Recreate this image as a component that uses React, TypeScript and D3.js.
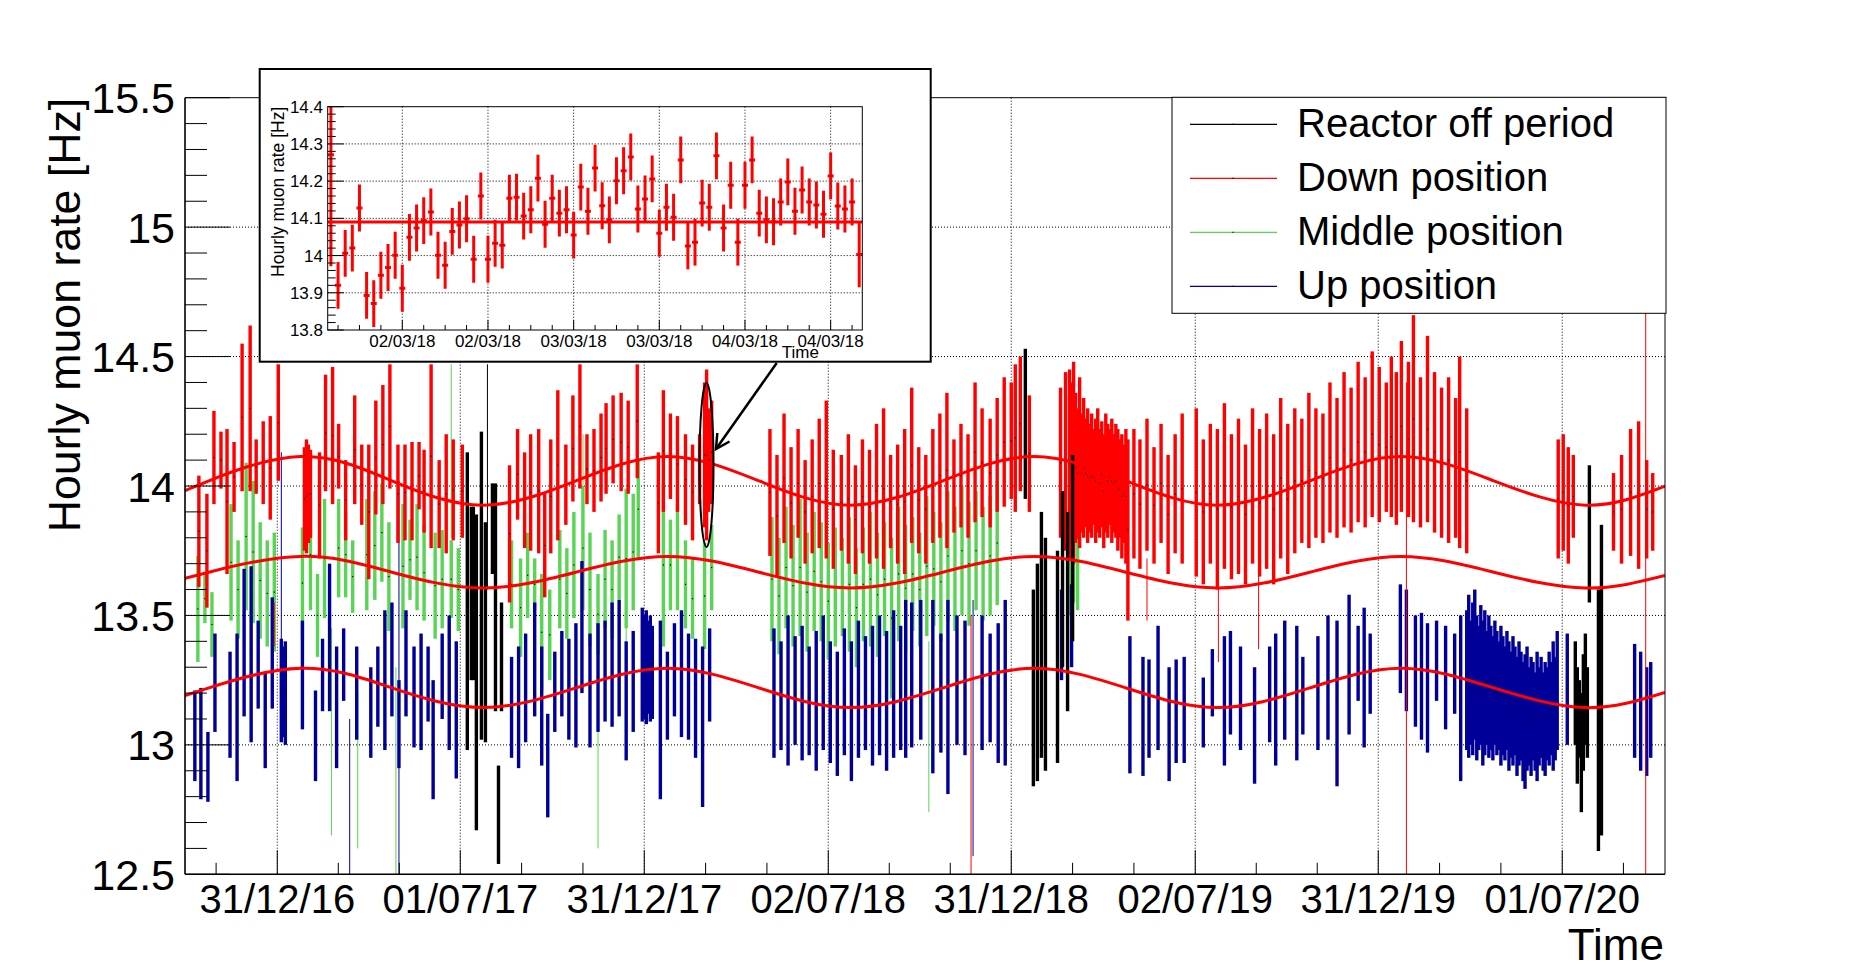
import React from "react";
import * as d3 from "d3";

type Spike = [number, number, number]; // [days since 31/12/16, low, high]

const FONT = "'Liberation Sans', Arial, Helvetica, sans-serif";
const DAY = 86400000;
const BASE_DATE = "2016-12-31T00:00:00Z";

// ---------- main axes ----------
const X_DOMAIN = ["2016-09-30T05:00:00Z", "2020-10-11T05:00:00Z"];
const X_TICKS = ["2016-12-31", "2017-07-01", "2017-12-31", "2018-07-02", "2018-12-31", "2019-07-02", "2019-12-31", "2020-07-01"];
const X_TICK_LABELS = ["31/12/16", "01/07/17", "31/12/17", "02/07/18", "31/12/18", "02/07/19", "31/12/19", "01/07/20"];
const Y_DOMAIN = [12.5, 15.5];
const Y_TICKS = [12.5, 13, 13.5, 14, 14.5, 15, 15.5];
const Y_TICK_LABELS = ["12.5", "13", "13.5", "14", "14.5", "15", "15.5"];

// ---------- series (envelopes of the hourly error bars per measurement period) ----------
const DOWN_SPIKES: Spike[] = [
  [-78, 13.61, 14.04], [-70, 13.53, 13.97], [-63, 13.93, 14.29], [-56, 13.99, 14.21], [-50, 13.66, 14.22], [-43, 13.9, 14.17],
  [-35, 13.98, 14.55], [-27, 13.98, 14.62], [-21, 13.97, 14.18], [-14, 13.93, 14.25], [-7, 13.87, 14.27], [1, 14.02, 14.47],
  [27, 13.75, 14.15], [29, 13.74, 14.18], [31, 13.78, 14.16], [33, 13.8, 14.14], [42, 13.72, 14.13], [48, 13.98, 14.43],
  [55, 13.93, 14.46], [61, 13.99, 14.24], [68, 13.79, 14.1], [77, 13.93, 14.35], [84, 13.85, 14.16], [91, 13.64, 14.16],
  [98, 13.89, 14.33], [105, 13.93, 14.39], [112, 13.99, 14.47], [120, 13.78, 14.16], [127, 13.79, 14.16], [134, 13.79, 14.17],
  [141, 13.91, 14.17], [146, 13.82, 14.14], [153, 13.76, 14.47], [161, 13.76, 14.1], [168, 13.74, 14.2], [175, 13.79, 14.18],
  [184, 13.8, 14.16], [231, 13.55, 14.08], [239, 13.87, 14.22], [246, 13.76, 14.13], [252, 13.75, 14.2], [260, 13.74, 14.22],
  [266, 13.57, 13.97], [272, 13.74, 14.18], [279, 13.79, 14.37], [287, 13.85, 14.16], [294, 13.94, 14.35], [301, 13.99, 14.47],
  [308, 13.93, 14.2], [315, 13.9, 14.22], [322, 13.94, 14.28], [327, 13.97, 14.32], [334, 14.01, 14.35], [342, 13.98, 14.36],
  [349, 13.97, 14.33], [358, 14.03, 14.47], [379, 13.74, 14.13], [384, 13.9, 14.37], [391, 13.95, 14.28], [398, 13.9, 14.27],
  [406, 13.85, 14.2], [413, 13.79, 14.16], [420, 13.93, 14.2], [425, 13.84, 14.4], [427, 13.79, 14.45], [429, 13.9, 14.3],
  [432, 13.93, 14.33],
  [490, 13.73, 14.22], [497, 13.65, 14.12], [504, 13.78, 14.28], [511, 13.72, 14.15], [518, 13.8, 14.22], [525, 13.7, 14.1],
  [532, 13.74, 14.18], [539, 13.76, 14.26], [546, 13.72, 14.33], [553, 13.68, 14.14], [561, 13.75, 14.12], [568, 13.7, 14.2],
  [575, 13.66, 14.08], [582, 13.74, 14.18], [589, 13.7, 14.14], [596, 13.72, 14.24], [603, 13.68, 14.3], [610, 13.76, 14.12],
  [617, 13.7, 14.16], [624, 13.66, 14.22], [631, 13.78, 14.38], [638, 13.74, 14.15], [645, 13.7, 14.12], [652, 13.78, 14.22],
  [659, 13.8, 14.28], [666, 13.76, 14.36], [673, 13.82, 14.18], [680, 13.84, 14.24], [687, 13.8, 14.2], [694, 13.86, 14.4],
  [701, 13.88, 14.3], [709, 13.84, 14.26], [716, 13.9, 14.34], [723, 13.92, 14.42], [730, 13.95, 14.4], [734, 13.9, 14.47],
  [739, 13.98, 14.5], [748, 13.9, 14.35], [779, 13.8, 14.38], [784, 13.75, 14.44],
  [788, 13.72, 14.45], [790, 13.75, 14.4], [792, 13.7, 14.48], [794, 13.78, 14.36], [796, 13.8, 14.3], [798, 13.76, 14.42],
  [800, 13.82, 14.28], [802, 13.8, 14.34], [804, 13.84, 14.26], [806, 13.78, 14.3], [808, 13.82, 14.24], [810, 13.8, 14.28],
  [812, 13.85, 14.22], [814, 13.78, 14.26], [816, 13.82, 14.3], [818, 13.8, 14.22], [820, 13.84, 14.25], [822, 13.76, 14.2],
  [824, 13.82, 14.28], [826, 13.8, 14.24], [828, 13.85, 14.22], [830, 13.78, 14.26], [832, 13.82, 14.2], [834, 13.8, 14.24],
  [836, 13.75, 14.22], [838, 13.8, 14.18], [840, 13.72, 14.2], [842, 13.78, 14.16], [844, 13.7, 14.22], [846, 13.48, 14.18],
  [852, 13.72, 14.22], [858, 13.68, 14.18], [865, 13.75, 14.26], [872, 13.7, 14.15], [879, 13.78, 14.24], [886, 13.66, 14.12],
  [893, 13.74, 14.2], [900, 13.7, 14.28], [914, 13.65, 14.3], [921, 13.62, 14.18], [928, 13.7, 14.24], [935, 13.6, 14.22],
  [942, 13.68, 14.32], [949, 13.64, 14.2], [956, 13.66, 14.26], [963, 13.62, 14.16], [970, 13.7, 14.3], [977, 13.65, 14.22],
  [984, 13.68, 14.28], [991, 13.62, 14.2], [998, 13.72, 14.34], [1005, 13.66, 14.24], [1012, 13.74, 14.3], [1019, 13.78, 14.26],
  [1026, 13.76, 14.36], [1033, 13.8, 14.3], [1040, 13.78, 14.28], [1047, 13.82, 14.4], [1054, 13.8, 14.34], [1061, 13.84, 14.44],
  [1068, 13.82, 14.38], [1075, 13.86, 14.48], [1082, 13.84, 14.42], [1089, 13.88, 14.52], [1096, 13.86, 14.46], [1103, 13.9, 14.4],
  [1108, 13.88, 14.5], [1113, 13.85, 14.44], [1118, 13.9, 14.56], [1125, 13.88, 14.48], [1130, 13.86, 14.66], [1137, 13.84, 14.42],
  [1144, 13.86, 14.58], [1151, 13.82, 14.44], [1158, 13.8, 14.38], [1165, 13.78, 14.42], [1172, 13.8, 14.34], [1176, 13.76, 14.5],
  [1183, 13.74, 14.3],
  [1274, 13.72, 14.18], [1279, 13.75, 14.2], [1284, 13.7, 14.15], [1289, 13.8, 14.12],
  [1329, 13.75, 14.05], [1337, 13.7, 14.12], [1346, 13.73, 14.22], [1354, 13.68, 14.25], [1362, 13.72, 14.1], [1368, 13.75, 14.05],
];
const DOWN_OUTLIERS: Spike[] = [
  [-3, 13.38, 13.55], [690, 12.45, 13.5], [865, 13.48, 13.72], [936, 13.32, 13.7], [976, 13.37, 13.7], [1123, 12.45, 14.4], [1361, 12.45, 14.67],
];

const MIDDLE_SPIKES: Spike[] = [
  [-79, 13.32, 13.73], [-72, 13.47, 13.66], [-65, 13.34, 13.59], [-46, 13.48, 13.93], [-39, 13.41, 13.79], [-31, 13.52, 14.09],
  [-24, 13.47, 14.02], [-17, 13.41, 13.86], [-10, 13.38, 13.79], [-3, 13.36, 13.82], [25, 13.41, 13.84], [33, 13.52, 13.95],
  [40, 13.34, 13.66], [47, 13.49, 13.95], [61, 13.57, 13.95], [68, 13.57, 13.9], [75, 13.51, 13.79], [89, 13.52, 13.95],
  [97, 13.56, 13.98], [104, 13.63, 14.01], [111, 13.44, 13.86], [125, 13.45, 13.93], [132, 13.56, 13.87], [139, 13.52, 13.93],
  [146, 13.48, 13.85], [157, 13.41, 13.82], [164, 13.45, 13.83], [173, 13.49, 13.79], [180, 13.44, 13.76], [233, 13.45, 13.79],
  [242, 13.34, 13.72], [249, 13.49, 13.82], [256, 13.52, 13.72], [263, 13.21, 13.66], [271, 13.25, 13.6], [281, 13.45, 13.83],
  [288, 13.41, 13.76], [295, 13.49, 13.9], [304, 13.52, 14.0], [311, 13.38, 13.82], [319, 13.35, 13.66], [326, 13.45, 13.83],
  [333, 13.41, 13.79], [340, 13.56, 13.89], [347, 13.45, 13.99], [354, 13.52, 13.97], [359, 13.72, 14.1], [384, 13.38, 14.01],
  [391, 13.52, 13.87], [398, 13.52, 13.93], [406, 13.45, 13.79], [413, 13.41, 13.72], [425, 13.37, 13.78], [432, 13.52, 13.85],
  [492, 13.4, 13.88], [499, 13.35, 13.8], [506, 13.45, 13.92], [513, 13.38, 13.85], [520, 13.42, 13.95], [527, 13.36, 13.82],
  [534, 13.44, 13.9], [541, 13.4, 13.86], [548, 13.33, 13.78], [555, 13.38, 13.84], [562, 13.42, 13.8], [569, 13.36, 13.88],
  [576, 13.3, 13.76], [583, 13.4, 13.84], [590, 13.38, 13.9], [597, 13.34, 13.82], [604, 13.42, 13.86], [611, 13.18, 13.8],
  [618, 13.4, 13.92], [625, 13.36, 13.85], [632, 13.44, 13.88], [639, 13.38, 13.82], [646, 13.42, 13.96], [653, 13.46, 13.9],
  [660, 13.4, 13.86], [667, 13.48, 13.98], [674, 13.44, 13.92], [681, 13.5, 14.0], [688, 13.46, 13.94], [695, 13.52, 13.98],
  [702, 13.48, 13.92], [709, 13.5, 13.96], [716, 13.54, 14.02], [788, 13.5, 14.1], [792, 13.55, 14.05], [796, 13.52, 14.08],
];
const MIDDLE_OUTLIERS: Spike[] = [
  [54, 12.65, 13.45], [80, 12.6, 13.2], [118, 12.45, 13.3], [173, 13.8, 14.47], [304, 14.0, 14.2], [319, 12.6, 13.35],
  [347, 12.97, 13.45], [648, 12.74, 13.4],
];

const UP_SPIKES: Spike[] = [
  [-82, 12.86, 13.21], [-76, 12.79, 13.22], [-69, 12.78, 13.05], [-62, 13.05, 13.43], [-47, 12.95, 13.36], [-40, 12.86, 13.43],
  [-33, 13.11, 13.68], [-26, 13.01, 13.69], [-19, 13.14, 13.48], [-12, 12.91, 13.28], [-5, 13.14, 13.57], [4, 13.01, 13.41],
  [6, 13.03, 13.38], [8, 13.0, 13.4], [25, 13.06, 13.48], [38, 12.86, 13.21], [45, 13.13, 13.41], [52, 13.13, 13.7],
  [59, 12.91, 13.38], [66, 13.17, 13.45], [79, 13.02, 13.38], [93, 12.95, 13.3], [100, 13.07, 13.38], [107, 12.98, 13.52],
  [114, 13.11, 13.55], [121, 12.91, 13.25], [128, 13.11, 13.52], [136, 12.99, 13.38], [143, 12.98, 13.43], [150, 13.09, 13.38],
  [155, 12.79, 13.25], [164, 13.1, 13.43], [171, 12.98, 13.5], [178, 12.87, 13.4], [233, 12.95, 13.34], [240, 12.91, 13.38],
  [247, 13.01, 13.43], [256, 13.11, 13.55], [263, 12.92, 13.38], [269, 12.72, 13.12], [276, 13.05, 13.36], [283, 13.11, 13.44],
  [290, 13.02, 13.41], [297, 12.99, 13.47], [303, 13.2, 13.71], [311, 12.99, 13.43], [319, 13.05, 13.47], [326, 13.09, 13.48],
  [333, 13.07, 13.55], [340, 13.11, 13.56], [347, 12.94, 13.4], [354, 13.05, 13.44], [363, 13.09, 13.53], [365, 13.1, 13.5],
  [367, 13.08, 13.52], [369, 13.12, 13.48], [371, 13.09, 13.5], [373, 13.1, 13.46], [381, 12.79, 13.48], [388, 13.02, 13.36],
  [395, 13.11, 13.47], [402, 13.03, 13.52], [409, 13.02, 13.43], [416, 12.95, 13.41], [423, 12.76, 13.38], [430, 13.09, 13.45],
  [494, 12.95, 13.45], [501, 12.98, 13.4], [508, 12.92, 13.5], [515, 13.0, 13.42], [522, 12.94, 13.46], [529, 12.96, 13.38],
  [536, 12.9, 13.44], [543, 12.98, 13.5], [550, 12.93, 13.4], [557, 12.88, 13.36], [564, 12.96, 13.45], [571, 12.86, 13.4],
  [578, 12.95, 13.48], [585, 12.98, 13.42], [592, 12.92, 13.46], [599, 12.96, 13.5], [606, 12.9, 13.44], [613, 12.95, 13.52],
  [620, 12.98, 13.46], [625, 12.95, 13.56], [631, 12.99, 13.55], [640, 13.02, 13.56], [652, 12.89, 13.56], [660, 12.97, 13.43],
  [667, 12.81, 13.56], [676, 13.0, 13.5], [684, 12.96, 13.48], [701, 12.98, 13.5], [709, 13.01, 13.43], [717, 12.93, 13.47],
  [724, 12.92, 13.56], [780, 13.25, 13.6], [790, 13.3, 13.62],
  [848, 12.89, 13.42], [861, 12.88, 13.34], [867, 12.95, 13.33], [876, 12.98, 13.46], [887, 12.86, 13.3], [894, 12.93, 13.33],
  [902, 12.93, 13.34], [921, 12.99, 13.26], [930, 13.11, 13.37], [942, 12.92, 13.42], [948, 13.04, 13.44], [958, 12.98, 13.38],
  [972, 12.85, 13.3], [987, 13.01, 13.38], [993, 12.92, 13.43], [1002, 13.02, 13.48], [1014, 12.94, 13.46], [1020, 13.04, 13.34],
  [1035, 12.98, 13.42], [1045, 13.02, 13.5], [1054, 12.84, 13.48], [1066, 13.04, 13.58], [1075, 13.17, 13.46], [1081, 12.99, 13.53],
  [1087, 13.12, 13.43], [1117, 13.2, 13.62], [1123, 13.13, 13.6], [1132, 13.07, 13.5], [1138, 13.02, 13.51], [1144, 12.97, 13.47],
  [1153, 13.17, 13.48], [1162, 13.06, 13.46], [1171, 13.12, 13.43], [1177, 12.86, 13.5],
  [1183, 12.98, 13.52], [1185, 12.95, 13.58], [1187, 13.0, 13.48], [1189, 12.96, 13.55], [1191, 13.02, 13.6], [1193, 12.94, 13.5],
  [1195, 12.98, 13.46], [1197, 13.0, 13.54], [1199, 12.92, 13.48], [1201, 12.96, 13.52], [1203, 13.0, 13.44], [1205, 12.95, 13.5],
  [1207, 12.98, 13.46], [1209, 12.94, 13.42], [1211, 13.0, 13.48], [1213, 12.96, 13.44], [1215, 12.98, 13.4], [1217, 12.92, 13.46],
  [1219, 12.96, 13.42], [1221, 12.94, 13.38], [1223, 12.98, 13.44], [1225, 12.9, 13.4], [1227, 12.95, 13.36], [1229, 12.92, 13.42],
  [1231, 12.96, 13.38], [1233, 12.88, 13.34], [1235, 12.92, 13.4], [1237, 12.94, 13.36], [1239, 12.86, 13.32], [1241, 12.83, 13.35],
  [1243, 12.9, 13.38], [1245, 12.92, 13.3], [1247, 12.88, 13.34], [1249, 12.94, 13.32], [1251, 12.9, 13.28], [1253, 12.86, 13.36],
  [1255, 12.92, 13.3], [1257, 12.95, 13.34], [1259, 12.9, 13.28], [1261, 12.88, 13.32], [1263, 12.94, 13.3], [1265, 12.92, 13.36],
  [1267, 12.96, 13.32], [1269, 12.9, 13.4], [1271, 12.94, 13.34], [1273, 12.98, 13.44],
  [1283, 13.0, 13.43], [1350, 12.95, 13.39], [1356, 12.9, 13.36], [1362, 12.88, 13.3], [1366, 12.95, 13.32],
];
const UP_OUTLIERS: Spike[] = [
  [4, 13.4, 14.13], [72, 12.45, 13.1], [121, 12.45, 14.02], [692, 12.57, 13.56],
];

const OFF_SPIKES: Spike[] = [
  [189, 12.98, 14.13], [193, 13.25, 13.92], [195, 13.25, 13.92], [198, 12.67, 13.89], [203, 13.02, 14.21], [207, 13.01, 13.86],
  [214, 13.66, 14.01], [217, 13.13, 14.01], [220, 12.54, 12.92], [223, 13.13, 13.55],
  [744, 13.95, 14.53], [752, 12.84, 13.6], [756, 12.86, 13.7], [760, 12.95, 13.9], [764, 12.9, 13.8], [776, 12.93, 13.75],
  [781, 13.3, 13.98], [786, 13.13, 13.9], [791, 13.4, 14.12],
  [1291, 13.0, 13.4], [1293, 12.85, 13.3], [1295, 12.95, 13.25], [1297, 12.74, 13.2], [1299, 12.9, 13.35], [1301, 13.0, 13.43],
  [1303, 12.95, 13.3], [1305, 13.55, 14.08], [1314, 12.59, 13.6], [1317, 12.65, 13.85],
];
const OFF_OUTLIERS: Spike[] = [[209, 13.6, 14.47]];

// ---------- yearly fits (values read at extrema and crossings) ----------
const FIT_DATES = [
  "2016-09-30T05:00:00Z", "2016-10-24", "2017-01-23", "2017-04-24", "2017-07-24", "2017-10-24", "2018-01-23", "2018-04-24",
  "2018-07-24", "2018-10-24", "2019-01-23", "2019-04-24", "2019-07-24", "2019-10-24", "2020-01-23", "2020-04-24", "2020-07-24",
  "2020-10-11T05:00:00Z",
];
const FIT_DOWN = [13.982, 14.02, 14.114, 14.02, 13.926, 14.02, 14.114, 14.02, 13.926, 14.02, 14.114, 14.02, 13.926, 14.02, 14.114, 14.02, 13.926, 13.999];
const FIT_MIDDLE = [13.643, 13.667, 13.728, 13.667, 13.606, 13.667, 13.728, 13.667, 13.606, 13.667, 13.728, 13.667, 13.606, 13.667, 13.728, 13.667, 13.606, 13.654];
const FIT_UP = [13.19, 13.22, 13.296, 13.22, 13.144, 13.22, 13.296, 13.22, 13.144, 13.22, 13.296, 13.22, 13.144, 13.22, 13.296, 13.22, 13.144, 13.203];

// ---------- legend ----------
const LEGEND_LABELS = ["Reactor off period", "Down position", "Middle position", "Up position"];
const COLORS = { off: "#000000", down: "#ff0000", middle: "#59d454", up: "#000099" };

// ---------- inset (hourly rates, 01/03/18 - 04/03/18) ----------
const INSET_DOMAIN = ["2018-03-01T13:33:00Z", "2018-03-04T16:26:00Z"];
const INSET_FIRST = "2018-03-01T14:00:00Z";
const INSET_Y_DOMAIN = [13.8, 14.4];
const INSET_Y_TICKS = [13.8, 13.9, 14.0, 14.1, 14.2, 14.3, 14.4];
const INSET_Y_LABELS = ["13.8", "13.9", "14", "14.1", "14.2", "14.3", "14.4"];
const INSET_VALUES = [
  14.271, 13.92, 14.006, 14.02, 14.128, 13.893, 13.871, 13.947, 13.968, 14.001, 13.912, 14.049, 14.074, 14.094, 14.117,
  14.001, 13.974, 14.065, 14.082, 14.099, 13.99, 14.16, 13.99, 14.033, 14.028, 14.154, 14.157, 14.106, 14.123, 14.208,
  14.084, 14.154, 14.114, 14.123, 14.055, 14.184, 14.119, 14.235, 14.134, 14.096, 14.201, 14.228, 14.265, 14.125, 14.152,
  14.206, 14.06, 14.13, 14.103, 14.257, 14.026, 14.036, 14.141, 14.13, 14.268, 14.074, 14.189, 14.036, 14.189, 14.257,
  14.114, 14.096, 14.091, 14.144, 14.198, 14.119, 14.176, 14.144, 14.136, 14.111, 14.214, 14.133, 14.125, 14.144, 14.003,
];
const INSET_ERRORS = INSET_VALUES.map((_, i) => (i === 0 ? 0.3 : i === INSET_VALUES.length - 1 ? 0.088 : 0.063));
const INSET_FIT = 14.09;

// ---------- layout ----------
const W = 1851, H = 973;
const FX0 = 185, FX1 = 1665, FY0 = 97.7, FY1 = 874.3;
const IB = { x0: 259.7, y0: 69, x1: 930.7, y1: 361.7 };
const IF = { x0: 327.7, y0: 106.7, x1: 862.3, y1: 330 };
const SPIKE_W = 3.4;

export default function App() {
  const base = new Date(BASE_DATE).getTime();
  const x = d3.scaleUtc().domain(X_DOMAIN.map((d) => new Date(d))).range([FX0, FX1]);
  const y = d3.scaleLinear().domain(Y_DOMAIN).range([FY1, FY0]);
  const dx = (d: number) => x(new Date(base + d * DAY));

  const majors = X_TICKS.map((d) => new Date(d + "T00:00:00Z").getTime());
  const step = (majors[majors.length - 1] - majors[0]) / (majors.length - 1);
  const ext = [majors[0] - step, ...majors, majors[majors.length - 1] + step];
  const minors: number[] = [];
  for (let i = 0; i < ext.length - 1; i++) {
    const a = ext[i], b = ext[i + 1];
    minors.push(a + (b - a) / 3, a + (2 * (b - a)) / 3);
  }
  const minorX = minors.map((t) => x(new Date(t))).filter((p) => p > FX0 + 0.5 && p < FX1 - 0.5);
  const yMinor = d3.range(0, 31).map((i) => 12.5 + i * 0.1);

  const fitLine = d3
    .line<[Date, number]>()
    .x((d) => x(d[0]))
    .y((d) => y(d[1]))
    .curve(d3.curveNatural);
  const fitDates = FIT_DATES.map((d) => new Date(d.length > 10 ? d : d + "T00:00:00Z"));
  const fits = [FIT_DOWN, FIT_MIDDLE, FIT_UP].map((vals) => fitLine(fitDates.map((d, i) => [d, vals[i]] as [Date, number])) || "");

  const spikes = (data: Spike[], color: string, w: number, key: string, dots: boolean) =>
    data.map(([d, lo, hi], i) => {
      const cx = dx(d);
      const y1 = y(hi), y2 = y(lo);
      return (
        <g key={key + i}>
          <rect x={cx - w / 2} y={y1} width={w} height={Math.max(1, y2 - y1)} fill={color} />
          {dots && <rect x={cx - 0.6} y={(y1 + y2) / 2 - 0.6} width={1.2} height={1.2} fill="#000" />}
        </g>
      );
    });

  // inset scales
  const ix = d3.scaleUtc().domain(INSET_DOMAIN.map((d) => new Date(d))).range([IF.x0, IF.x1]);
  const iy = d3.scaleLinear().domain(INSET_Y_DOMAIN).range([IF.y1, IF.y0]);
  const iMajors = d3.utcHour.every(12)!.range(ix.domain()[0], ix.domain()[1]);
  const iMinors = d3.utcHour.every(3)!.range(ix.domain()[0], ix.domain()[1]);
  const iFmt = d3.utcFormat("%d/%m/%y");
  const iyMinor = d3.range(0, 31).map((i) => 13.8 + i * 0.02);
  const first = new Date(INSET_FIRST).getTime();

  const dotted = { stroke: "#000", strokeWidth: 1, strokeDasharray: "1 2" };

  return (
    <svg width={W} height={H} style={{ display: "block", position: "absolute", left: 0, top: 0, background: "#fff" }} fontFamily={FONT}>
      <style>{`body{margin:0}`}</style>
      <defs>
        <clipPath id="mainClip">
          <rect x={FX0} y={FY0} width={FX1 - FX0} height={FY1 - FY0} />
        </clipPath>
        <clipPath id="insetClip">
          <rect x={IF.x0} y={IF.y0} width={IF.x1 - IF.x0} height={IF.y1 - IF.y0} />
        </clipPath>
      </defs>
      <rect x={0} y={0} width={W} height={H} fill="#fff" />

      {/* grid */}
      {majors.map((t, i) => (
        <line key={"gx" + i} x1={x(new Date(t))} x2={x(new Date(t))} y1={FY0} y2={FY1} {...dotted} />
      ))}
      {Y_TICKS.slice(1, -1).map((v, i) => (
        <line key={"gy" + i} x1={FX0} x2={FX1} y1={y(v)} y2={y(v)} {...dotted} />
      ))}

      {/* data */}
      <g clipPath="url(#mainClip)">
        {spikes(MIDDLE_SPIKES, COLORS.middle, SPIKE_W, "m", true)}
        {spikes(MIDDLE_OUTLIERS, COLORS.middle, 1, "mo", false)}
        {spikes(UP_SPIKES, COLORS.up, SPIKE_W, "u", true)}
        {spikes(UP_OUTLIERS, COLORS.up, 1, "uo", false)}
        {spikes(DOWN_SPIKES, COLORS.down, SPIKE_W, "d", true)}
        {spikes(DOWN_OUTLIERS, COLORS.down, 1, "do", false)}
        {spikes(OFF_SPIKES, COLORS.off, SPIKE_W, "o", false)}
        {spikes(OFF_OUTLIERS, COLORS.off, 1, "oo", false)}
        {fits.map((p, i) => (
          <path key={"fit" + i} d={p} fill="none" stroke="#ff0000" strokeWidth={3} />
        ))}
      </g>

      {/* frame & axes */}
      <line x1={FX0} x2={FX1} y1={FY0} y2={FY0} stroke="#000" strokeWidth={1} />
      <line x1={FX1} x2={FX1} y1={FY0} y2={FY1} stroke="#000" strokeWidth={1} />
      <line x1={FX0} x2={FX0} y1={FY0} y2={FY1} stroke="#000" strokeWidth={1.6} />
      <line x1={FX0} x2={FX1} y1={FY1} y2={FY1} stroke="#000" strokeWidth={1.6} />
      {yMinor.map((v, i) => {
        const major = i % 5 === 0;
        return <line key={"yt" + i} x1={FX0} x2={FX0 + (major ? 45 : 22)} y1={y(v)} y2={y(v)} stroke="#000" strokeWidth={1} />;
      })}
      {Y_TICKS.map((v, i) => (
        <text key={"yl" + i} x={175} y={y(v) + 15.5} fontSize={43} textAnchor="end">
          {Y_TICK_LABELS[i]}
        </text>
      ))}
      {majors.map((t, i) => (
        <line key={"xt" + i} x1={x(new Date(t))} x2={x(new Date(t))} y1={FY1} y2={FY1 - 24} stroke="#000" strokeWidth={1} />
      ))}
      {minorX.map((p, i) => (
        <line key={"xm" + i} x1={p} x2={p} y1={FY1} y2={FY1 - 11.5} stroke="#000" strokeWidth={1} />
      ))}
      {majors.map((t, i) => (
        <text key={"xl" + i} x={x(new Date(t))} y={913} fontSize={40} textAnchor="middle">
          {X_TICK_LABELS[i]}
        </text>
      ))}
      <text x={1664} y={960} fontSize={44} textAnchor="end">Time</text>
      <text transform={`translate(80,${FY0}) rotate(-90)`} fontSize={44.7} textAnchor="end">
        Hourly muon rate [Hz]
      </text>

      {/* ellipse + arrow */}
      <ellipse cx={706.5} cy={465} rx={7} ry={82} fill="none" stroke="#000" strokeWidth={2} />
      <line x1={776.7} y1={363} x2={716} y2={449} stroke="#000" strokeWidth={2.5} />
      <polyline points="717.3,433 716,449 729.5,441.5" fill="none" stroke="#000" strokeWidth={2.5} />

      {/* legend */}
      <rect x={1172} y={97.3} width={494} height={216} fill="#fff" stroke="#000" strokeWidth={1} />
      {LEGEND_LABELS.map((lab, i) => {
        const ry = 124.3 + i * 54;
        const col = [COLORS.off, COLORS.down, COLORS.middle, COLORS.up][i];
        return (
          <g key={"lg" + i}>
            <line x1={1190} x2={1277} y1={ry} y2={ry} stroke={col} strokeWidth={1.2} />
            <rect x={1232.5} y={ry - 0.6} width={1.2} height={1.2} fill="#000" />
            <text x={1297} y={ry + 13} fontSize={40}>
              {lab}
            </text>
          </g>
        );
      })}

      {/* inset */}
      <rect x={IB.x0} y={IB.y0} width={IB.x1 - IB.x0} height={IB.y1 - IB.y0} fill="#fff" stroke="#000" strokeWidth={2} />
      {iMajors.map((t, i) => (
        <line key={"igx" + i} x1={ix(t)} x2={ix(t)} y1={IF.y0} y2={IF.y1} {...dotted} />
      ))}
      {INSET_Y_TICKS.slice(1, -1).map((v, i) => (
        <line key={"igy" + i} x1={IF.x0} x2={IF.x1} y1={iy(v)} y2={iy(v)} {...dotted} />
      ))}
      <g clipPath="url(#insetClip)">
        <line x1={IF.x0} x2={IF.x1} y1={iy(INSET_FIT)} y2={iy(INSET_FIT)} stroke="#ff0000" strokeWidth={3} />
        {INSET_VALUES.map((v, i) => {
          const px = ix(new Date(first + i * 3600000));
          const e = INSET_ERRORS[i];
          return (
            <g key={"ip" + i}>
              <line x1={px} x2={px} y1={iy(v + e)} y2={iy(v - e)} stroke="#ff0000" strokeWidth={3} />
              <line x1={px - 3} x2={px + 3} y1={iy(v)} y2={iy(v)} stroke="#ff0000" strokeWidth={3} />
              <rect x={px - 0.5} y={iy(v) - 0.5} width={1} height={1} fill="#000" />
            </g>
          );
        })}
      </g>
      <rect x={IF.x0} y={IF.y0} width={IF.x1 - IF.x0} height={IF.y1 - IF.y0} fill="none" stroke="#000" strokeWidth={1} />
      {iyMinor.map((v, i) => {
        const major = i % 5 === 0;
        return <line key={"iyt" + i} x1={IF.x0} x2={IF.x0 + (major ? 16 : 8)} y1={iy(v)} y2={iy(v)} stroke="#000" strokeWidth={1} />;
      })}
      {INSET_Y_TICKS.map((v, i) => (
        <text key={"iyl" + i} x={323} y={iy(v) + 6} fontSize={17} textAnchor="end">
          {INSET_Y_LABELS[i]}
        </text>
      ))}
      {iMinors.map((t, i) => {
        const major = t.getUTCHours() % 12 === 0;
        return <line key={"ixt" + i} x1={ix(t)} x2={ix(t)} y1={IF.y1} y2={IF.y1 - (major ? 10 : 5)} stroke="#000" strokeWidth={1} />;
      })}
      {iMajors.map((t, i) => (
        <text key={"ixl" + i} x={ix(t)} y={346.7} fontSize={17} textAnchor="middle">
          {iFmt(t)}
        </text>
      ))}
      <text x={819} y={357.7} fontSize={17} textAnchor="end">Time</text>
      <text transform={`translate(284,${IF.y0}) rotate(-90)`} fontSize={17.5} textAnchor="end">
        Hourly muon rate [Hz]
      </text>
    </svg>
  );
}
